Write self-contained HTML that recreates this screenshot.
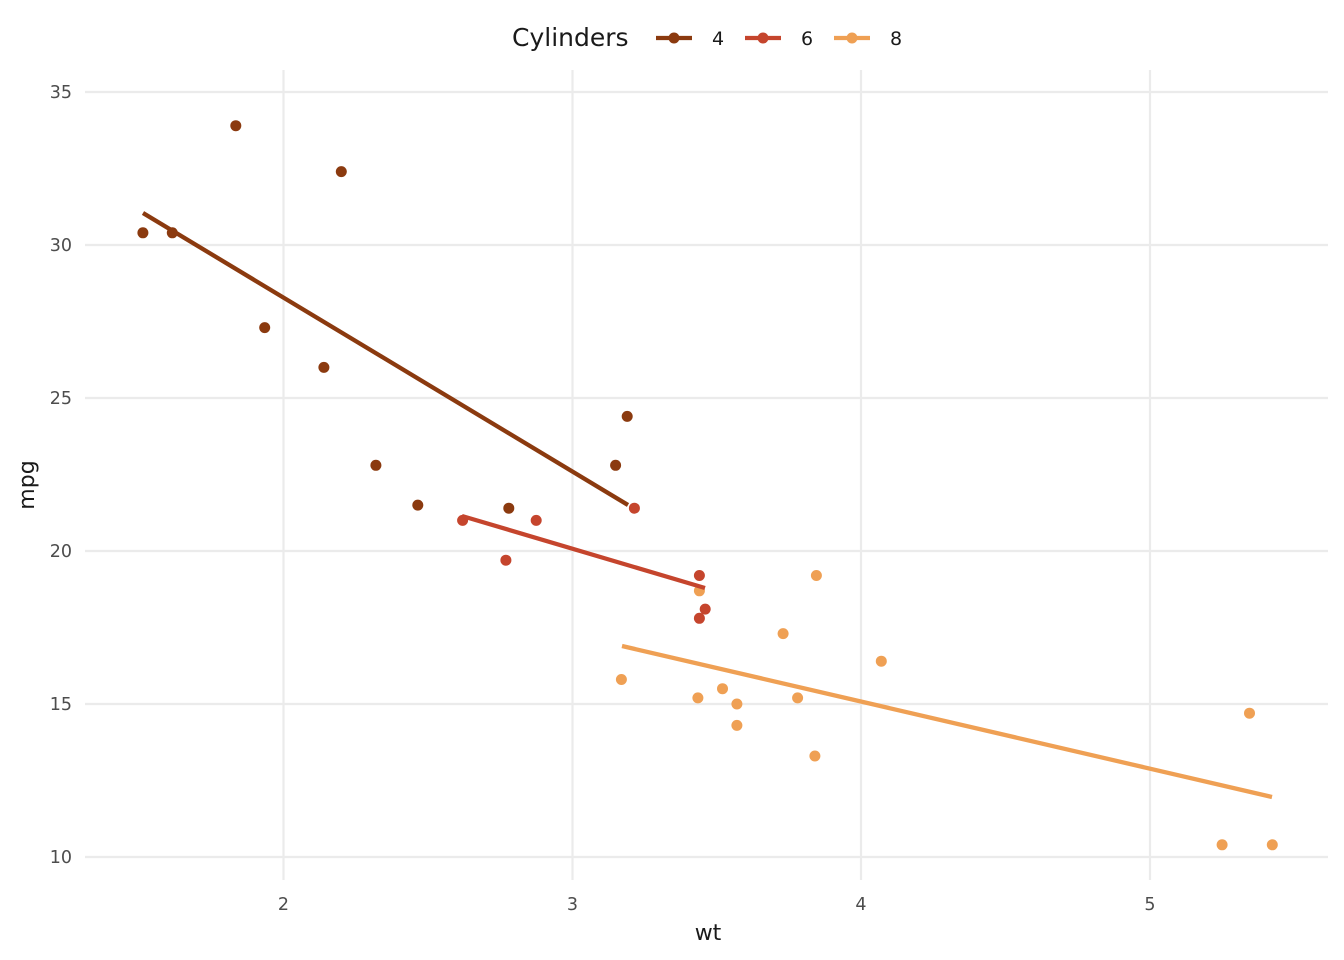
<!DOCTYPE html>
<html><head><meta charset="utf-8"><style>
html,body{margin:0;padding:0;background:#fff;}
svg{display:block;font-family:"DejaVu Sans","Liberation Sans",sans-serif;}
</style></head><body>
<svg width="1344" height="960" viewBox="0 0 1344 960" xmlns="http://www.w3.org/2000/svg">
<rect width="1344" height="960" fill="#fff"/>
<g stroke="#ebebeb" stroke-width="2.2">
<line x1="85" x2="1328" y1="92" y2="92"/><line x1="85" x2="1328" y1="245" y2="245"/>
<line x1="85" x2="1328" y1="398" y2="398"/><line x1="85" x2="1328" y1="551" y2="551"/>
<line x1="85" x2="1328" y1="704" y2="704"/><line x1="85" x2="1328" y1="857" y2="857"/>
<line y1="70" y2="880" x1="283.5" x2="283.5"/><line y1="70" y2="880" x1="572.5" x2="572.5"/>
<line y1="70" y2="880" x1="861" x2="861"/><line y1="70" y2="880" x1="1150" x2="1150"/>
</g>
<g font-size="17.5" fill="#4d4d4d" text-anchor="end">
<text x="72" y="98">35</text><text x="72" y="251">30</text><text x="72" y="404">25</text>
<text x="72" y="557">20</text><text x="72" y="710">15</text><text x="72" y="863">10</text>
</g>
<g font-size="17.5" fill="#4d4d4d" text-anchor="middle">
<text x="283.5" y="910">2</text><text x="572.5" y="910">3</text><text x="861" y="910">4</text><text x="1150" y="910">5</text>
</g>
<text x="708" y="940" font-size="22" fill="#1a1a1a" text-anchor="middle">wt</text>
<text transform="translate(34,485) rotate(-90)" font-size="22" fill="#1a1a1a" text-anchor="middle">mpg</text>
<g fill="#8B3A0F">
<circle cx="375.9" cy="465.3" r="5.5"/><circle cx="627.2" cy="416.4" r="5.5"/><circle cx="615.6" cy="465.3" r="5.5"/>
<circle cx="341.3" cy="171.6" r="5.5"/><circle cx="172.3" cy="232.8" r="5.5"/><circle cx="235.8" cy="125.7" r="5.5"/>
<circle cx="417.8" cy="505.1" r="5.5"/><circle cx="264.7" cy="327.6" r="5.5"/><circle cx="323.9" cy="367.4" r="5.5"/>
<circle cx="142.9" cy="232.8" r="5.5"/><circle cx="508.8" cy="508.2" r="5.5"/>
</g>
<g fill="#C5452D">
<circle cx="462.6" cy="520.4" r="5.5"/><circle cx="536.2" cy="520.4" r="5.5"/><circle cx="634.4" cy="508.2" r="5.5"/>
<circle cx="705.2" cy="609.1" r="5.5"/><circle cx="699.4" cy="575.5" r="5.5"/><circle cx="699.4" cy="618.3" r="5.5"/>
<circle cx="505.9" cy="560.2" r="5.5"/>
</g>
<g fill="#EFA054">
<circle cx="699.4" cy="590.8" r="5.5"/><circle cx="736.9" cy="725.4" r="5.5"/><circle cx="881.3" cy="661.2" r="5.5"/>
<circle cx="783.1" cy="633.6" r="5.5"/><circle cx="797.6" cy="697.9" r="5.5"/><circle cx="1222.1" cy="844.8" r="5.5"/>
<circle cx="1272.3" cy="844.8" r="5.5"/><circle cx="1249.5" cy="713.2" r="5.5"/><circle cx="722.5" cy="688.7" r="5.5"/>
<circle cx="697.9" cy="697.9" r="5.5"/><circle cx="814.9" cy="756" r="5.5"/><circle cx="816.4" cy="575.5" r="5.5"/>
<circle cx="621.4" cy="679.5" r="5.5"/><circle cx="736.9" cy="704" r="5.5"/>
</g>
<line x1="143" y1="213" x2="628" y2="505" stroke="#8B3A0F" stroke-width="4.3"/>
<line x1="462" y1="516" x2="705" y2="588" stroke="#C5452D" stroke-width="4.3"/>
<line x1="622" y1="646" x2="1272" y2="797" stroke="#EFA054" stroke-width="4.3"/>
<text x="512" y="46" font-size="25" fill="#1a1a1a">Cylinders</text>
<line x1="656" x2="692" y1="38" y2="38" stroke="#8B3A0F" stroke-width="4.3"/><circle cx="674" cy="38" r="5.5" fill="#8B3A0F"/>
<text x="712" y="45" font-size="19" fill="#1a1a1a">4</text>
<line x1="745" x2="781" y1="38" y2="38" stroke="#C5452D" stroke-width="4.3"/><circle cx="763" cy="38" r="5.5" fill="#C5452D"/>
<text x="801" y="45" font-size="19" fill="#1a1a1a">6</text>
<line x1="834" x2="870" y1="38" y2="38" stroke="#EFA054" stroke-width="4.3"/><circle cx="852" cy="38" r="5.5" fill="#EFA054"/>
<text x="890" y="45" font-size="19" fill="#1a1a1a">8</text>
</svg>
</body></html>
